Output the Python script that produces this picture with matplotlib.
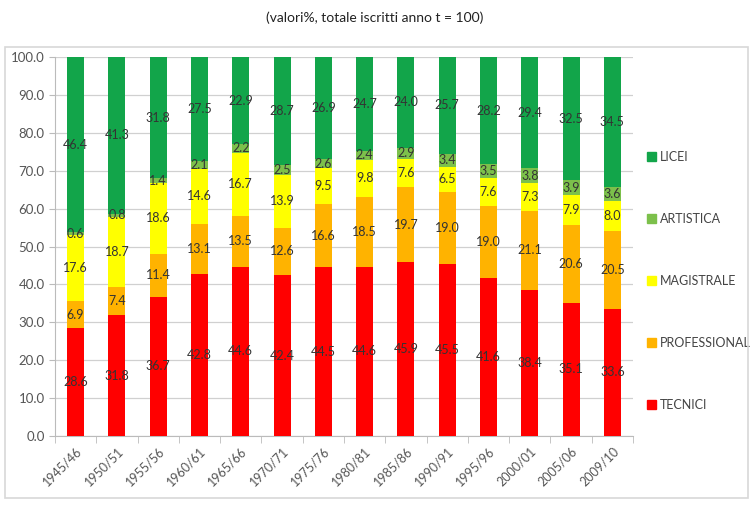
import matplotlib
matplotlib.use("Agg")
import matplotlib.pyplot as plt
from matplotlib.patches import Rectangle, Patch
import numpy as np

# anni scolastici
anni = ["1945/46", "1950/51", "1955/56", "1960/61", "1965/66", "1970/71", "1975/76",
        "1980/81", "1985/86", "1990/91", "1995/96", "2000/01", "2005/06", "2009/10"]

tecnici = [28.6, 31.8, 36.7, 42.8, 44.6, 42.4, 44.5, 44.6, 45.9, 45.5, 41.6, 38.4, 35.1, 33.6]
professional = [6.9, 7.4, 11.4, 13.1, 13.5, 12.6, 16.6, 18.5, 19.7, 19.0, 19.0, 21.1, 20.6, 20.5]
magistrale = [17.6, 18.7, 18.6, 14.6, 16.7, 13.9, 9.5, 9.8, 7.6, 6.5, 7.6, 7.3, 7.9, 8.0]
artistica = [0.6, 0.8, 1.4, 2.1, 2.2, 2.5, 2.6, 2.4, 2.9, 3.4, 3.5, 3.8, 3.9, 3.6]
licei = [46.4, 41.3, 31.8, 27.5, 22.9, 28.7, 26.9, 24.7, 24.0, 25.7, 28.2, 29.4, 32.5, 34.5]

serie = [
    ("TECNICI", tecnici, "#ff0000"),
    ("PROFESSIONAL", professional, "#ffb300"),
    ("MAGISTRALE", magistrale, "#ffff00"),
    ("ARTISTICA", artistica, "#7cc04b"),
    ("LICEI", licei, "#12a54a"),
]

plt.rcParams['font.family'] = ['Lato', 'DejaVu Sans']

fig = plt.figure(figsize=(7.5, 5.08), dpi=100)
ax = fig.add_axes([0.0733, 0.1417, 0.7707, 0.7461])

x = np.arange(len(anni))
base = np.zeros(len(anni))
for nome, valori, colore in serie:
    v = np.array(valori)
    ax.bar(x, v, bottom=base, width=0.41, color=colore, label=nome, zorder=3)
    for xi, b, vi in zip(x, base, v):
        ax.text(xi, b + vi / 2, f"{vi:.1f}", ha="center", va="center",
                fontsize=9, color="#333333", zorder=4)
    base = base + v

ax.set_xlim(-0.5, len(anni) - 0.5)
ax.set_ylim(0, 100)
ax.set_yticks(np.arange(0, 101, 10))
ax.set_yticklabels([f"{t:.1f}" for t in np.arange(0, 101, 10)])
ax.yaxis.grid(True, color="#d0d0d0", linewidth=0.9, zorder=0)
ax.set_axisbelow(True)

ax.set_xticks(x)
ax.set_xticklabels(anni, rotation=45, ha="right", rotation_mode="anchor")
ax.set_xticks(np.arange(-0.5, len(anni)), minor=True)
ax.tick_params(axis="x", which="major", length=0, pad=6, labelsize=9, colors="#555555")
ax.tick_params(axis="x", which="minor", length=5, color="#bbbbbb")
ax.tick_params(axis="y", length=4, color="#bbbbbb", labelsize=9.5, labelcolor="#555555")

for lato in ["top", "right"]:
    ax.spines[lato].set_visible(False)
ax.spines["left"].set_color("#bbbbbb")
ax.spines["bottom"].set_color("#bbbbbb")

maniglie = [Patch(color=c, label=n) for n, _, c in reversed(serie)]
ax.legend(handles=maniglie, loc="center left", bbox_to_anchor=(1.005, 0.41),
          frameon=False, handlelength=0.7, handleheight=0.7, handletextpad=0.3,
          labelspacing=4.0, fontsize=9, labelcolor="#444444")

fig.text(0.5, 0.965, "(valori%, totale iscritti anno t = 100)", ha="center", va="center",
         fontsize=10, color="#222222")

fig.patches.append(Rectangle((5 / 750, 10 / 508), 743 / 750, 451 / 508,
                             transform=fig.transFigure, fill=False,
                             edgecolor="#d8d8d8", linewidth=1.2))

fig.savefig("out.png", dpi=100)
